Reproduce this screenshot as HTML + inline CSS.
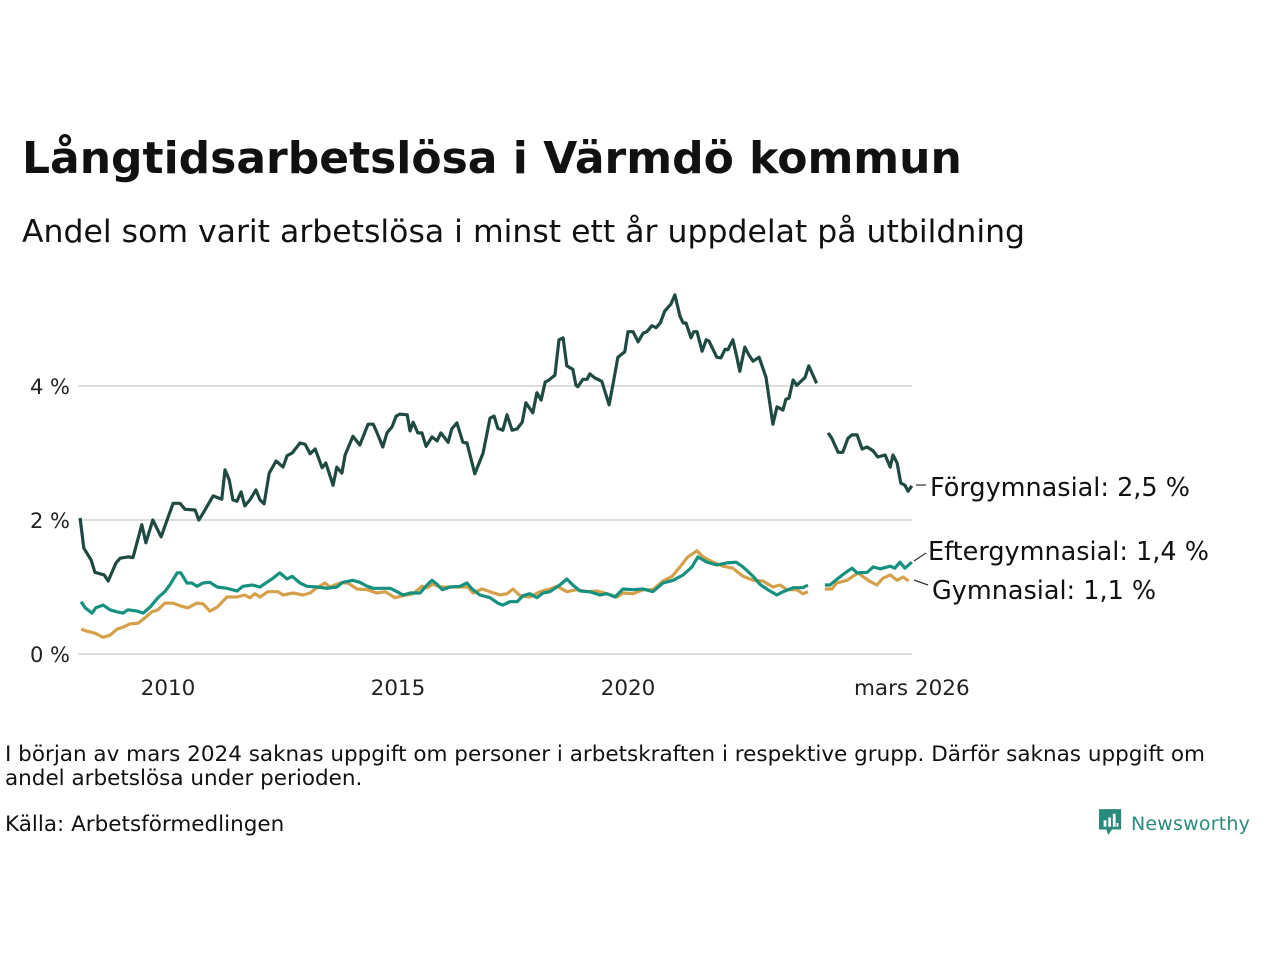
<!DOCTYPE html>
<html><head><meta charset="utf-8">
<style>
body{margin:0;width:1280px;height:960px;background:#fff;font-family:"DejaVu Sans","Liberation Sans",sans-serif;color:#111;overflow:hidden;position:relative}
h1{position:absolute;left:22px;top:133px;margin:0;font-size:44px;font-weight:bold;letter-spacing:0px}
.sub{position:absolute;left:22px;top:214px;font-size:31.5px}
.note{position:absolute;left:5px;top:743px;font-size:21.5px;line-height:24px;width:1240px}
.src{position:absolute;left:5px;top:812px;font-size:21.5px}
.logo{position:absolute;left:1099px;top:808px;font-size:19px;color:#2a8a7c;font-weight:normal;letter-spacing:0.2px}
</style></head><body>
<h1>Långtidsarbetslösa i Värmdö kommun</h1>
<div class="sub">Andel som varit arbetslösa i minst ett år uppdelat på utbildning</div>
<svg id="chart" width="1280" height="720" style="position:absolute;left:0;top:0"></svg>
<div class="note">I början av mars 2024 saknas uppgift om personer i arbetskraften i respektive grupp. Därför saknas uppgift om andel arbetslösa under perioden.</div>
<div class="src">Källa: Arbetsförmedlingen</div>
<div class="logo"><svg width="24" height="30" viewBox="0 0 26 30" style="vertical-align:-8px;margin-right:8px"><path d="M0 0H24V22H14L10 28L8 22H0Z" fill="#2a8a7c"/><rect x="5" y="12" width="3" height="7" fill="#fff"/><rect x="10" y="9" width="3" height="10" fill="#fff"/><rect x="15" y="5" width="3" height="14" fill="#fff"/><rect x="19" y="15" width="2" height="4" fill="#fff"/></svg>Newsworthy</div>
<script>
const forgYears=[2008.09,2008.17,2008.33,2008.41,2008.61,2008.70,2008.87,2008.96,2009.13,2009.24,2009.43,2009.52,2009.67,2009.85,2009.98,2010.11,2010.26,2010.37,2010.59,2010.67,2010.76,2010.98,2011.17,2011.24,2011.33,2011.41,2011.50,2011.59,2011.67,2011.78,2011.91,2012.00,2012.09,2012.20,2012.35,2012.50,2012.59,2012.70,2012.87,2012.98,2013.09,2013.20,2013.35,2013.43,2013.59,2013.67,2013.78,2013.85,2014.02,2014.17,2014.35,2014.46,2014.54,2014.67,2014.76,2014.87,2014.96,2015.04,2015.20,2015.26,2015.33,2015.43,2015.52,2015.61,2015.74,2015.85,2015.93,2016.09,2016.17,2016.28,2016.41,2016.50,2016.67,2016.85,2017.00,2017.09,2017.17,2017.28,2017.37,2017.48,2017.59,2017.70,2017.78,2017.93,2018.02,2018.11,2018.20,2018.28,2018.41,2018.50,2018.59,2018.67,2018.80,2018.87,2018.91,2019.02,2019.11,2019.17,2019.28,2019.43,2019.59,2019.67,2019.78,2019.93,2020.00,2020.11,2020.22,2020.33,2020.41,2020.52,2020.61,2020.70,2020.80,2020.93,2021.02,2021.13,2021.20,2021.26,2021.37,2021.43,2021.50,2021.61,2021.70,2021.76,2021.93,2022.02,2022.11,2022.17,2022.28,2022.37,2022.43,2022.54,2022.63,2022.72,2022.85,2023.00,2023.15,2023.24,2023.37,2023.43,2023.50,2023.59,2023.67,2023.85,2023.93,2024.1,2024.28,2024.35,2024.43,2024.57,2024.67,2024.78,2024.87,2024.98,2025.09,2025.20,2025.33,2025.43,2025.59,2025.70,2025.76,2025.85,2025.93,2026.02,2026.09,2026.17];
const forgValues=[2.03,1.58,1.40,1.22,1.18,1.09,1.36,1.43,1.45,1.44,1.93,1.66,2.0,1.75,2.0,2.25,2.25,2.16,2.15,2.0,2.1,2.36,2.31,2.75,2.6,2.3,2.28,2.42,2.21,2.3,2.45,2.3,2.24,2.7,2.88,2.79,2.96,3.0,3.15,3.13,2.99,3.06,2.78,2.85,2.52,2.79,2.7,2.97,3.25,3.12,3.43,3.43,3.31,3.09,3.3,3.39,3.55,3.58,3.57,3.33,3.46,3.3,3.3,3.1,3.24,3.18,3.3,3.16,3.36,3.45,3.16,3.15,2.69,3.0,3.52,3.55,3.37,3.34,3.57,3.34,3.36,3.46,3.75,3.6,3.9,3.79,4.06,4.09,4.16,4.69,4.72,4.3,4.25,4.01,3.99,4.1,4.1,4.18,4.12,4.07,3.72,4.01,4.43,4.51,4.81,4.81,4.66,4.79,4.81,4.9,4.87,4.94,5.12,5.22,5.36,5.04,4.94,4.94,4.72,4.81,4.81,4.52,4.69,4.67,4.43,4.42,4.55,4.54,4.69,4.42,4.22,4.58,4.46,4.37,4.43,4.13,3.43,3.69,3.64,3.8,3.82,4.09,4.01,4.13,4.3,4.04,null,3.3,3.22,3.01,3.01,3.22,3.27,3.27,3.06,3.09,3.03,2.94,2.97,2.79,2.97,2.85,2.55,2.52,2.43,2.51,2.52];
const efterYears=[2008.11,2008.20,2008.35,2008.43,2008.59,2008.74,2008.89,2009.02,2009.13,2009.33,2009.46,2009.61,2009.78,2009.93,2010.04,2010.20,2010.28,2010.41,2010.52,2010.63,2010.76,2010.91,2011.07,2011.28,2011.50,2011.63,2011.83,2012.00,2012.15,2012.28,2012.43,2012.59,2012.70,2012.87,2013.02,2013.24,2013.46,2013.67,2013.80,2014.02,2014.17,2014.33,2014.46,2014.65,2014.83,2014.98,2015.11,2015.26,2015.48,2015.63,2015.74,2015.85,2015.96,2016.13,2016.35,2016.50,2016.61,2016.78,2017.00,2017.17,2017.28,2017.43,2017.59,2017.72,2017.87,2018.02,2018.15,2018.30,2018.52,2018.67,2018.80,2018.96,2019.17,2019.39,2019.54,2019.72,2019.89,2020.11,2020.33,2020.54,2020.76,2020.98,2021.20,2021.39,2021.52,2021.72,2021.93,2022.15,2022.35,2022.50,2022.72,2022.87,2023.04,2023.24,2023.37,2023.59,2023.80,2023.91,2024.1,2024.28,2024.39,2024.57,2024.72,2024.87,2024.98,2025.20,2025.33,2025.48,2025.70,2025.80,2025.91,2026.02,2026.17];
const efterValues=[.78,.69,.61,.69,.73,.66,.63,.61,.66,.64,.61,.70,.84,.93,1.03,1.21,1.21,1.06,1.06,1.01,1.06,1.07,1.0,.98,.94,1.01,1.03,1.0,1.07,1.13,1.21,1.12,1.16,1.06,1.01,1.0,.98,1.0,1.07,1.1,1.07,1.01,.98,.98,.98,.93,.88,.91,.91,1.03,1.1,1.04,.96,1.0,1.01,1.06,.97,.88,.84,.76,.73,.78,.78,.87,.9,.84,.91,.93,1.03,1.12,1.03,.94,.93,.88,.9,.85,.97,.96,.97,.93,1.06,1.1,1.18,1.3,1.45,1.37,1.33,1.36,1.37,1.3,1.16,1.04,.96,.88,.93,.99,.99,1.03,null,1.03,1.03,1.13,1.21,1.28,1.21,1.22,1.3,1.27,1.31,1.28,1.37,1.28,1.37];
const gymYears=[2008.11,2008.24,2008.41,2008.59,2008.74,2008.89,2009.02,2009.17,2009.35,2009.50,2009.65,2009.78,2009.93,2010.11,2010.26,2010.43,2010.63,2010.76,2010.91,2011.07,2011.28,2011.50,2011.67,2011.78,2011.89,2012.00,2012.17,2012.39,2012.50,2012.72,2012.93,2013.09,2013.24,2013.41,2013.52,2013.74,2013.91,2014.11,2014.33,2014.54,2014.72,2014.93,2015.11,2015.33,2015.52,2015.63,2015.76,2015.91,2016.13,2016.35,2016.52,2016.63,2016.83,2017.00,2017.22,2017.37,2017.50,2017.65,2017.87,2018.09,2018.30,2018.46,2018.67,2018.89,2019.11,2019.33,2019.54,2019.76,2019.89,2020.11,2020.33,2020.54,2020.76,2020.96,2021.13,2021.30,2021.50,2021.63,2021.85,2022.07,2022.28,2022.50,2022.72,2022.93,2023.15,2023.30,2023.46,2023.67,2023.80,2023.91,2024.1,2024.28,2024.43,2024.54,2024.76,2025.00,2025.22,2025.41,2025.54,2025.70,2025.85,2025.98,2026.10];
const gymValues=[.37,.34,.31,.25,.28,.37,.40,.45,.46,.54,.63,.66,.76,.76,.72,.69,.76,.75,.64,.70,.85,.85,.88,.84,.9,.85,.93,.93,.88,.91,.88,.91,.99,1.06,1.0,1.06,1.06,.97,.96,.91,.93,.84,.87,.9,1.01,.99,1.04,1.0,1.0,1.0,1.0,.91,.97,.93,.88,.9,.97,.87,.85,.93,.97,1.01,.93,.96,.93,.94,.9,.85,.91,.9,.96,.96,1.09,1.16,1.3,1.45,1.54,1.45,1.37,1.31,1.28,1.16,1.1,1.09,1.0,1.03,.96,.96,.9,.93,null,.97,.97,1.06,1.1,1.21,1.1,1.03,1.13,1.18,1.1,1.15,1.09];
const yTicks=[0,2,4];
const yTickLabels=["0 %","2 %","4 %"];
const xTicks=[2010,2015,2020,2026.17];
const xTickLabels=["2010","2015","2020","mars 2026"];

const NS="http://www.w3.org/2000/svg";
const svg=document.getElementById('chart');
const X=y=>168+(y-2010)*46;
const Y=v=>654-v*67;
function mk(t,a){const e=document.createElementNS(NS,t);for(const k in a)e.setAttribute(k,a[k]);svg.appendChild(e);return e;}
yTicks.forEach((t,i)=>{
  const g=mk('line',{x1:78,x2:912,y1:Y(t),y2:Y(t),stroke:'#dddddd','stroke-width':2});
  
  
  const l=mk('text',{x:70,y:Y(t)+8,'text-anchor':'end','font-size':21,fill:'#222','font-family':'DejaVu Sans, Liberation Sans, sans-serif'});
  l.textContent=yTickLabels[i];
  
  
});
xTicks.forEach((t,i)=>{
  const l=mk('text',{x:X(t),y:695,'text-anchor':'middle','font-size':21.5,fill:'#222','font-family':'DejaVu Sans, Liberation Sans, sans-serif'});
  l.textContent=xTickLabels[i];
  
  
});
function series(ys,vs,color,name){
  let d='',pen=false;
  ys.forEach((y,i)=>{const v=vs[i];if(v==null){pen=false;return;}d+=(pen?'L':'M')+X(y).toFixed(1)+' '+Y(v).toFixed(1);pen=true;});
  const p=mk('path',{d:d,fill:'none',stroke:color,'stroke-width':3.2,'stroke-linejoin':'round'});
  
  
}
series(gymYears,gymValues,'#d4a04a','gymnasial-line');
series(efterYears,efterValues,'#16917f','eftergymnasial-line');
series(forgYears,forgValues,'#1f4a42','forgymnasial-line');
function label(txt,x,y,lx1,ly1,lx2,ly2,name){
  const ln=mk('line',{x1:lx1,y1:ly1,x2:lx2,y2:ly2,stroke:'#333','stroke-width':1.2});
  
  
  const t=mk('text',{x:x,y:y,'font-size':25.5,fill:'#111','font-family':'DejaVu Sans, Liberation Sans, sans-serif'});
  t.textContent=txt;
  
  
}
label('Förgymnasial: 2,5 %',930,496,916,485,926,485,'forgymnasial-label');
label('Eftergymnasial: 1,4 %',928,560,914,561,926,553,'eftergymnasial-label');
label('Gymnasial: 1,1 %',932,599,914,580,928,585,'gymnasial-label');
</script>
</body></html>
